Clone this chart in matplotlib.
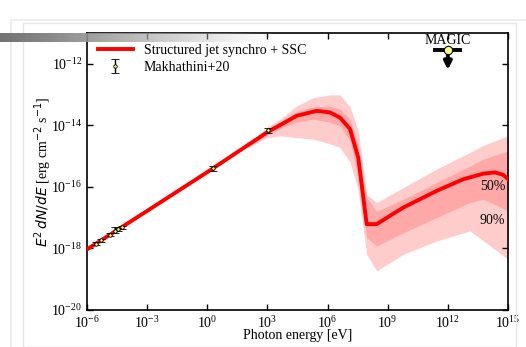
import numpy as np
import matplotlib
matplotlib.use('Agg')
import matplotlib.pyplot as plt
from matplotlib.patches import Rectangle

plt.rcParams['font.family'] = 'serif'
plt.rcParams['font.serif'] = ['Liberation Serif', 'DejaVu Serif']
plt.rcParams['mathtext.fontset'] = 'dejavusans'

FS = 10

# model curve: log10(E/eV), log10(E^2 dN/dE)
model_logE = [-6, -3, 0, 3, 4.46, 5.46, 6.12, 6.62, 7.12, 7.53, 7.95, 8.45,
              9.11, 9.78, 11.44, 12.77, 13.77, 14.35, 14.77, 15.0]
model_logF = [-18.03, -16.78, -15.52, -14.22, -13.69, -13.53, -13.58, -13.75,
              -14.12, -15.05, -17.21, -17.21, -16.94, -16.67, -16.13, -15.75,
              -15.57, -15.53, -15.61, -15.75]

# credible bands
band_logE = [2.0, 3.0, 3.63, 4.46, 5.29, 6.12, 6.62, 7.12, 7.53, 7.95, 8.45,
             9.78, 11.44, 13.1, 13.77, 15.0]
b90_hi = [-14.66, -14.05, -13.8, -13.37, -13.1, -13.01, -13.01, -13.4, -14.18,
          -16.24, -16.51, -16.02, -15.42, -14.88, -14.65, -14.34]
b90_lo = [-14.73, -14.4, -14.34, -14.4, -14.45, -14.6, -14.72, -15.2, -16.1,
          -18.19, -18.73, -18.19, -17.76, -17.43, -17.75, -18.35]
b50_hi = [-14.68, -14.12, -13.9, -13.55, -13.4, -13.38, -13.47, -13.8, -14.7,
          -16.35, -16.8, -16.4, -15.86, -15.32, -15.1, -14.83]
b50_lo = [-14.71, -14.3, -14.1, -13.9, -13.8, -13.9, -14.02, -14.5, -15.7,
          -17.65, -17.92, -17.49, -17.0, -16.51, -16.4, -16.78]

# Makhathini+20 data
obs_logE = [-5.55, -5.3, -4.85, -4.6, -4.45, -4.27, 0.3, 3.01]
obs_logF = [-17.84, -17.74, -17.55, -17.44, -17.38, -17.31, -15.40, -14.16]
obs_dlo = [0.06, 0.06, 0.04, 0.06, 0.06, 0.05, 0.08, 0.08]
obs_dhi = [0.06, 0.06, 0.04, 0.15, 0.06, 0.05, 0.08, 0.08]

# MAGIC upper limit
magic_logE = 12.0
magic_logF = -11.55
magic_logE_range = (11.38, 12.62)
magic_logF_end = -12.2

E = 10.0 ** np.array(model_logE)
F = 10.0 ** np.array(model_logF)
bE = 10.0 ** np.array(band_logE)

fig = plt.figure(figsize=(5.26, 3.47), dpi=100)
ax = fig.add_axes([0.1654, 0.1066, 0.8004, 0.7983])

ax.fill_between(bE, 10.0 ** np.array(b90_lo), 10.0 ** np.array(b90_hi),
                color='#ffcccc', lw=0, zorder=1)
ax.fill_between(bE, 10.0 ** np.array(b50_lo), 10.0 ** np.array(b50_hi),
                color='#ffa8a8', lw=0, zorder=2)
ax.plot(E, F, color='red', lw=2.8, zorder=3, label='Structured jet synchro + SSC')

oE = 10.0 ** np.array(obs_logE)
oF = 10.0 ** np.array(obs_logF)
yerr = [oF * (1 - 10.0 ** -np.array(obs_dlo)), oF * (10.0 ** np.array(obs_dhi) - 1)]
ax.errorbar(oE, oF, yerr=yerr, fmt='o', ms=2.5, mfc='#ffff66', mec='k', mew=0.6,
            ecolor='k', elinewidth=1, capsize=3, capthick=1, zorder=5,
            label='Makhathini+20')

mE = 10.0 ** magic_logE
mF = 10.0 ** magic_logF
ax.plot([10.0 ** magic_logE_range[0], 10.0 ** magic_logE_range[1]], [mF, mF],
        color='k', lw=2.8, zorder=6)
ax.annotate('', xy=(mE, 10.0 ** magic_logF_end), xytext=(mE, mF),
            arrowprops=dict(arrowstyle='-|>,head_length=0.45,head_width=0.22',
                            color='k', lw=2.8, shrinkA=0, shrinkB=0), zorder=6)
ax.plot([mE], [mF], 'o', ms=6, mfc='#ffff80', mec='k', mew=0.8, zorder=7)
ax.text(mE, 10.0 ** -11.25, 'MAGIC', ha='center', va='center', fontsize=FS)

ax.text(10.0 ** 14.85, 10.0 ** -16.0, '50%', ha='right', va='center', fontsize=FS)
ax.text(10.0 ** 14.85, 10.0 ** -17.1, '90%', ha='right', va='center', fontsize=FS)

ax.set_xscale('log')
ax.set_yscale('log')
ax.set_xlim(1e-6, 1e15)
ax.set_ylim(1e-20, 1e-11)
ax.set_xticks(10.0 ** np.arange(-6, 16, 3))
ax.set_yticks(10.0 ** np.arange(-20, -11, 2))
ax.minorticks_off()
ax.tick_params(direction='in', top=True, right=True, length=4, width=1, labelsize=FS)
for s in ax.spines.values():
    s.set_linewidth(1.2)

ax.set_xlabel('Photon energy [eV]', fontsize=FS, labelpad=-1)
ax.set_ylabel(r'$E^2\,dN/dE$ [erg cm$^{-2}$ s$^{-1}$]', fontsize=FS, labelpad=-2)
ax.legend(loc='upper left', frameon=False, fontsize=FS, handlelength=2.5,
          borderaxespad=0.4, labelspacing=0.3)

# page border
fig.patches.append(Rectangle((23 / 526, 0), 493 / 526, 324 / 347, transform=fig.transFigure,
                             fill=False, ec='#e6e6e6', lw=1, zorder=0))
fig.patches.append(Rectangle((11 / 526, -0.1), 0.99, 0.9 + 0.1 - 10 / 347 + 0.07,
                             transform=fig.transFigure, fill=False, ec='#eeeeee', lw=1.5, zorder=0))

# torn strip across the top
strip = fig.add_axes([0, 1 - 42 / 347, 275 / 526, 9 / 347], zorder=10)
grad = np.linspace(0, 1, 256)
rgba = np.zeros((1, 256, 4))
rgba[..., :3] = 0.45 + 0.4 * grad[None, :, None]
rgba[..., 3] = 1 - grad ** 2
strip.imshow(rgba, aspect='auto', extent=[0, 1, 0, 1])
strip.axis('off')

fig.savefig('out.png', dpi=100)
